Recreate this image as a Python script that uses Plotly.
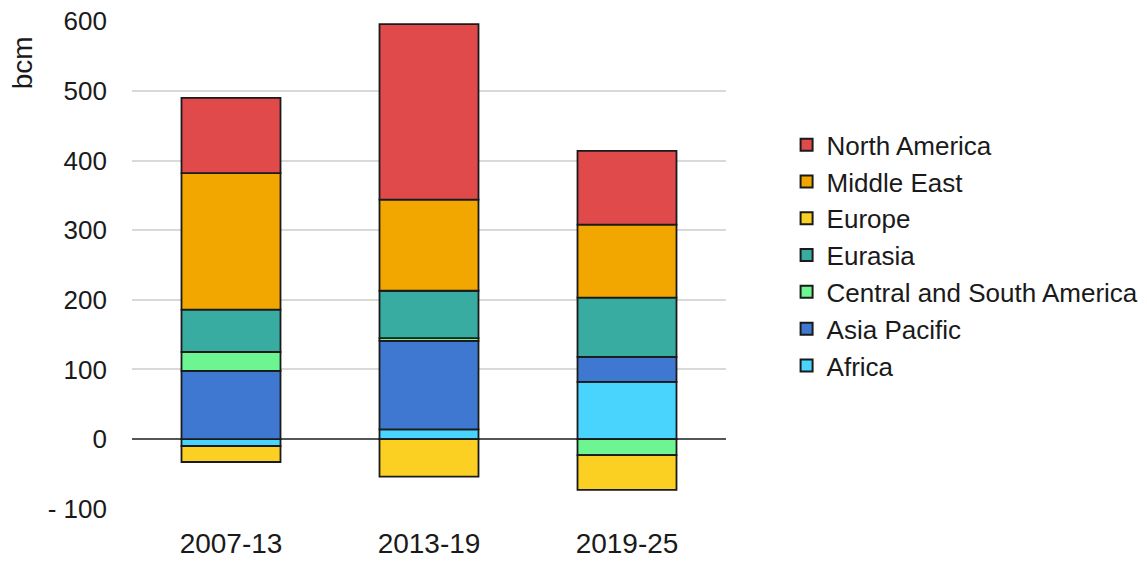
import plotly.graph_objects as go

periods = ["2007-13", "2013-19", "2019-25"]
regions = ["Africa", "Asia Pacific", "Central and South America", "Eurasia",
           "Europe", "Middle East", "North America"]
africa = [-10, 14, 82]
asia_pacific = [98, 127, 36]
central_south_america = [27, 4, -23]
eurasia = [61, 68, 85]
europe = [-23, -54, -50]
middle_east = [196, 131, 105]
north_america = [108, 252, 106]
series = [africa, asia_pacific, central_south_america, eurasia, europe, middle_east, north_america]
colors = ["#48D4FD", "#3F78D0", "#6CF591", "#38ACA0", "#FCD022", "#F1A700", "#E14A4A"]
ytick_vals = [-100, 0, 100, 200, 300, 400, 500, 600]
ytick_text = ["- 100", "0", "100", "200", "300", "400", "500", "600"]

FONT = "Liberation Sans, Arial, sans-serif"
TXT = "#1a1a1a"

fig = go.Figure()
for name, vals, col in zip(regions, series, colors):
    fig.add_trace(go.Bar(
        x=periods, y=vals, name=name,
        marker=dict(color=col, line=dict(color="#1a1a1a", width=1.8)),
    ))

fig.update_layout(
    barmode="relative",
    bargap=0.5,
    width=1147, height=561,
    margin=dict(l=132, r=421, t=21, b=52, autoexpand=False),
    plot_bgcolor="white", paper_bgcolor="white",
    font=dict(family=FONT, size=26, color=TXT),
    showlegend=True,
    legend=dict(
        traceorder="reversed",
        x=1.102, xanchor="left", y=0.52, yanchor="middle",
        font=dict(family=FONT, size=26, color=TXT),
        bgcolor="rgba(0,0,0,0)", borderwidth=0,
        itemsizing="constant",
        tracegroupgap=0,
    ),
    xaxis=dict(
        showgrid=False, showline=False, ticks="", automargin=False,
        tickfont=dict(family=FONT, size=28, color=TXT),
        ticklabelstandoff=15,
    ),
    yaxis=dict(
        range=[-100.5, 600.5], automargin=False,
        tickvals=ytick_vals, ticktext=ytick_text,
        showgrid=True, gridcolor="#d9d9d9", gridwidth=1.5,
        zeroline=True, zerolinecolor="#555555", zerolinewidth=1.8,
        showline=False, ticks="",
        tickfont=dict(family=FONT, size=26, color=TXT),
        ticklabelstandoff=24,
    ),
    annotations=[dict(
        text="bcm", textangle=-90, xref="paper", yref="y",
        x=-0.185, y=540, xanchor="center", yanchor="middle",
        showarrow=False, font=dict(family=FONT, size=28, color=TXT),
    )],
)

fig.write_html("out.html")
